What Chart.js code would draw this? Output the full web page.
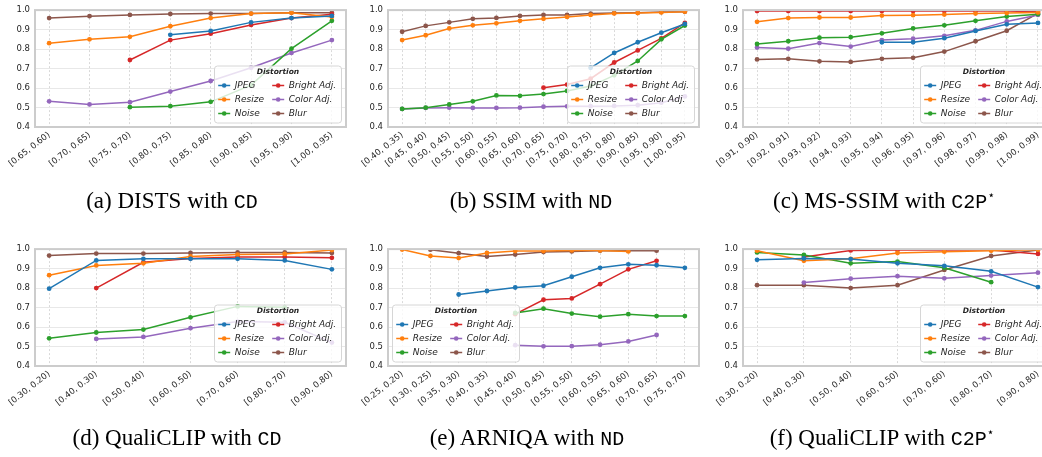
<!DOCTYPE html>
<html>
<head>
<meta charset="utf-8">
<script src="https://cdn.jsdelivr.net/npm/chart.js@4.4.1/dist/chart.umd.min.js"></script>
<style>
  body { margin: 0; width: 1042px; height: 457px; overflow: hidden; background: #fff; position: relative; }
  canvas { position: absolute; }
  .cap { position: absolute; width: 360px; text-align: center; white-space: nowrap;
         font-family: 'Liberation Serif', serif; font-size: 23px; line-height: 1; color: #000; }
  .cap code { font-family: 'Liberation Mono', monospace; font-size: 20px; }
  .cap sup { font-family: 'DejaVu Sans', sans-serif; font-size: 12px; line-height: 0; }
</style>
</head>
<body>
<canvas id="distsChart" width="350" height="190" style="left:0;top:0"></canvas>
<canvas id="ssimChart" width="352" height="190" style="left:350px;top:0"></canvas>
<canvas id="msssimChart" width="360" height="190" style="left:702px;top:0"></canvas>
<canvas id="qcCdChart" width="350" height="190" style="left:0;top:239px"></canvas>
<canvas id="arniqaChart" width="352" height="190" style="left:350px;top:239px"></canvas>
<canvas id="qcC2pChart" width="360" height="190" style="left:702px;top:239px"></canvas>

<div class="cap" style="left:-8px;top:189px">(a) DISTS with <code>CD</code></div>
<div class="cap" style="left:351px;top:189px">(b) SSIM with <code>ND</code></div>
<div class="cap" style="left:704px;top:189px">(c) MS-SSIM with <code>C2P</code><sup>⋆</sup></div>
<div class="cap" style="left:-3px;top:426px">(d) QualiCLIP with <code>CD</code></div>
<div class="cap" style="left:347px;top:426px">(e) ARNIQA with <code>ND</code></div>
<div class="cap" style="left:702px;top:426px">(f) QualiCLIP with <code>C2P</code><sup>⋆</sup></div>

<script>
const names = ['JPEG', 'Resize', 'Noise', 'Bright Adj.', 'Color Adj.', 'Blur'];
const colors = ['#1f77b4', '#ff7f0e', '#2ca02c', '#d62728', '#9467bd', '#8c564b'];

// (a) DISTS with CD
const distsLabels = ['[0.65, 0.60)', '[0.70, 0.65)', '[0.75, 0.70)', '[0.80, 0.75)', '[0.85, 0.80)', '[0.90, 0.85)', '[0.95, 0.90)', '[1.00, 0.95)'];
const distsJpeg = [null, null, null, 0.873, 0.893, 0.937, 0.959, 0.970];
const distsResize = [0.830, 0.850, 0.863, 0.917, 0.959, 0.982, 0.987, 0.965];
const distsNoise = [null, null, 0.502, 0.507, 0.529, 0.615, 0.802, 0.945];
const distsBright = [null, null, 0.744, 0.846, 0.879, 0.924, 0.959, 0.979];
const distsColor = [0.532, 0.516, 0.527, 0.582, 0.636, 0.704, 0.780, 0.846];
const distsBlur = [0.959, 0.969, 0.975, 0.980, 0.982, 0.982, 0.987, 0.987];

// (b) SSIM with ND
const ssimLabels = ['[0.40, 0.35)', '[0.45, 0.40)', '[0.50, 0.45)', '[0.55, 0.50)', '[0.60, 0.55)', '[0.65, 0.60)', '[0.70, 0.65)', '[0.75, 0.70)', '[0.80, 0.75)', '[0.85, 0.80)', '[0.90, 0.85)', '[0.95, 0.90)', '[1.00, 0.95)'];
const ssimJpeg = [null, null, null, null, null, null, null, null, 0.704, 0.780, 0.835, 0.884, 0.929];
const ssimResize = [0.846, 0.871, 0.906, 0.922, 0.932, 0.945, 0.955, 0.965, 0.975, 0.983, 0.985, 0.988, 0.992];
const ssimNoise = [0.493, 0.499, 0.516, 0.532, 0.562, 0.560, 0.569, 0.585, 0.610, 0.665, 0.739, 0.850, 0.921];
const ssimBright = [null, null, null, null, null, null, 0.602, 0.618, 0.648, 0.731, 0.793, 0.855, 0.934];
const ssimColor = [0.493, 0.498, 0.499, 0.498, 0.498, 0.499, 0.504, 0.506, 0.507, 0.508, 0.512, 0.525, 0.557];
const ssimBlur = [0.889, 0.919, 0.937, 0.955, 0.960, 0.970, 0.975, 0.975, 0.982, 0.985, 0.987, 0.990, 0.992];

// (c) MS-SSIM with C2P*
const msssimLabels = ['[0.91, 0.90)', '[0.92, 0.91)', '[0.93, 0.92)', '[0.94, 0.93)', '[0.95, 0.94)', '[0.96, 0.95)', '[0.97, 0.96)', '[0.98, 0.97)', '[0.99, 0.98)', '[1.00, 0.99)'];
const msssimJpeg = [null, null, null, null, 0.835, 0.835, 0.856, 0.893, 0.927, 0.934];
const msssimResize = [0.940, 0.959, 0.962, 0.962, 0.972, 0.974, 0.977, 0.982, 0.985, 0.988];
const msssimNoise = [0.826, 0.840, 0.858, 0.861, 0.881, 0.906, 0.922, 0.945, 0.967, 0.979];
const msssimBright = [0.995, 0.995, 0.995, 0.995, 0.995, 0.995, 0.995, 0.995, 0.995, 0.992];
const msssimColor = [0.808, 0.802, 0.831, 0.813, 0.846, 0.853, 0.868, 0.896, 0.942, 0.975];
const msssimBlur = [0.747, 0.750, 0.737, 0.734, 0.750, 0.755, 0.787, 0.840, 0.894, 0.983];

// (d) QualiCLIP with CD
const qcCdLabels = ['[0.30, 0.20)', '[0.40, 0.30)', '[0.50, 0.40)', '[0.60, 0.50)', '[0.70, 0.60)', '[0.80, 0.70)', '[0.90, 0.80)'];
const qcCdJpeg = [0.797, 0.942, 0.950, 0.950, 0.950, 0.942, 0.896];
const qcCdResize = [0.866, 0.916, 0.927, 0.962, 0.972, 0.975, 0.995];
const qcCdNoise = [0.542, 0.572, 0.587, 0.650, 0.706, 0.702, null];
const qcCdBright = [null, 0.800, 0.932, 0.952, 0.960, 0.960, 0.955];
const qcCdColor = [null, 0.539, 0.549, 0.594, 0.628, 0.624, 0.520];
const qcCdBlur = [0.967, 0.977, 0.977, 0.980, 0.983, 0.983, 0.980];

// (e) ARNIQA with ND
const arniqaLabels = ['[0.25, 0.20)', '[0.30, 0.25)', '[0.35, 0.30)', '[0.40, 0.35)', '[0.45, 0.40)', '[0.50, 0.45)', '[0.55, 0.50)', '[0.60, 0.55)', '[0.65, 0.60)', '[0.70, 0.65)', '[0.75, 0.70)'];
const arniqaJpeg = [null, null, 0.767, 0.785, 0.803, 0.812, 0.858, 0.904, 0.922, 0.917, 0.904];
const arniqaResize = [0.998, 0.965, 0.954, 0.980, 0.990, 0.990, 0.993, 0.993, 0.988, null, null];
const arniqaNoise = [null, null, null, null, 0.672, 0.694, 0.669, 0.653, 0.666, 0.656, 0.656];
const arniqaBright = [null, null, null, null, 0.666, 0.740, 0.747, 0.820, 0.896, 0.940, null];
const arniqaColor = [null, null, null, null, 0.507, 0.501, 0.502, 0.509, 0.526, 0.559, null];
const arniqaBlur = [null, 0.997, 0.979, 0.962, 0.972, 0.985, 0.988, 0.992, 0.992, 0.992, null];

// (f) QualiCLIP with C2P*
const qcC2pLabels = ['[0.30, 0.20)', '[0.40, 0.30)', '[0.50, 0.40)', '[0.60, 0.50)', '[0.70, 0.60)', '[0.80, 0.70)', '[0.90, 0.80)'];
const qcC2pJpeg = [0.945, 0.952, 0.949, 0.927, 0.914, 0.886, 0.805];
const qcC2pResize = [0.992, 0.940, 0.950, 0.980, 0.987, 0.992, 0.997];
const qcC2pNoise = [0.983, 0.970, 0.927, 0.936, 0.904, 0.830, null];
const qcC2pBright = [null, 0.960, 0.993, 0.995, 0.995, 0.995, 0.975];
const qcC2pColor = [null, 0.828, 0.848, 0.861, 0.850, 0.864, 0.879];
const qcC2pBlur = [0.815, 0.815, 0.800, 0.815, 0.893, 0.965, 0.995];

const textColor = '#262626';

// axes frame + in-axes legend (matplotlib style)
const frameLegend = {
    id: 'frameLegend',
    afterDatasetsDraw(chart) {
        const a = chart.chartArea, ctx = chart.ctx;
        ctx.save();
        ctx.strokeStyle = '#cccccc';
        ctx.lineWidth = 2;
        ctx.strokeRect(a.left, a.top, a.right - a.left, a.bottom - a.top);
        ctx.restore();
    },
    afterDraw(chart, args, opts) {
        const a = chart.chartArea, ctx = chart.ctx;
        const w = 127, h = 57;
        const x = opts.side === 'left' ? a.left + 4.5 : a.right - 4.5 - w;
        const y = a.bottom - 4 - h;
        ctx.save();
        ctx.beginPath();
        ctx.roundRect(x, y, w, h, 3);
        ctx.fillStyle = 'rgba(255,255,255,0.8)';
        ctx.fill();
        ctx.strokeStyle = '#d6d6d6';
        ctx.lineWidth = 1;
        ctx.stroke();

        ctx.fillStyle = textColor;
        ctx.font = 'italic bold 7.5px "DejaVu Sans"';
        ctx.textAlign = 'center';
        ctx.textBaseline = 'middle';
        ctx.fillText('Distortion', x + w / 2, y + 6);

        ctx.font = 'italic 9px "DejaVu Sans"';
        ctx.textAlign = 'left';
        chart.data.datasets.forEach((ds, i) => {
            const col = Math.floor(i / 3), row = i % 3;
            const hx = x + (col ? 63.7 : 9.7);
            const ty = y + 19.5 + row * 14;
            ctx.strokeStyle = ds.borderColor;
            ctx.lineWidth = 1.5;
            ctx.beginPath();
            ctx.moveTo(hx - 6, ty);
            ctx.lineTo(hx + 6, ty);
            ctx.stroke();
            ctx.fillStyle = ds.borderColor;
            ctx.beginPath();
            ctx.arc(hx, ty, 2.3, 0, Math.PI * 2);
            ctx.fill();
            ctx.fillStyle = textColor;
            ctx.fillText(ds.label, hx + 10.5, ty);
        });
        ctx.restore();
    }
};

function makeChart(id, labels, series, plotLeft, rightPad, side) {
    const n = labels.length;
    const tickFont = { family: 'DejaVu Sans', size: 8.5 };
    return new Chart(document.getElementById(id), {
        type: 'line',
        data: {
            datasets: series.map((vals, i) => ({
                label: names[i],
                data: vals.map((v, j) => ({ x: j, y: v })).filter(p => p.y !== null),
                borderColor: colors[i],
                backgroundColor: colors[i],
                borderWidth: 1.5,
                pointRadius: 2.4,
                pointBorderWidth: 0,
                pointHoverRadius: 2.4,
                tension: 0
            }))
        },
        options: {
            responsive: false,
            animation: false,
            events: [],
            layout: { padding: { left: 0, top: 6, right: rightPad, bottom: 0 } },
            plugins: {
                legend: { display: false },
                tooltip: { enabled: false },
                frameLegend: { side: side }
            },
            scales: {
                x: {
                    type: 'linear',
                    min: -0.05 * (n - 1),
                    max: (n - 1) * 1.05,
                    afterBuildTicks: s => { s.ticks = labels.map((_, i) => ({ value: i })); },
                    afterFit: s => { s.height = 63; },
                    ticks: {
                        autoSkip: false,
                        minRotation: 38,
                        maxRotation: 38,
                        padding: 3,
                        color: textColor,
                        font: tickFont,
                        callback: v => labels[v]
                    },
                    grid: { color: '#d0d0d0', lineWidth: 0.8, drawTicks: false },
                    border: { display: false, dash: [2, 2] }
                },
                y: {
                    min: 0.4,
                    max: 1.0,
                    afterFit: s => { s.width = plotLeft; },
                    ticks: {
                        stepSize: 0.1,
                        padding: 5,
                        color: textColor,
                        font: tickFont,
                        callback: v => v.toFixed(1)
                    },
                    grid: { color: '#e8e8e8', lineWidth: 1, drawTicks: false },
                    border: { display: false }
                }
            }
        },
        plugins: [frameLegend]
    });
}

makeChart('distsChart', distsLabels, [distsJpeg, distsResize, distsNoise, distsBright, distsColor, distsBlur], 35, 4, 'right');
makeChart('ssimChart', ssimLabels, [ssimJpeg, ssimResize, ssimNoise, ssimBright, ssimColor, ssimBlur], 38, 3, 'right');
makeChart('msssimChart', msssimLabels, [msssimJpeg, msssimResize, msssimNoise, msssimBright, msssimColor, msssimBlur], 41, 10, 'right');
makeChart('qcCdChart', qcCdLabels, [qcCdJpeg, qcCdResize, qcCdNoise, qcCdBright, qcCdColor, qcCdBlur], 35, 4, 'right');
makeChart('arniqaChart', arniqaLabels, [arniqaJpeg, arniqaResize, arniqaNoise, arniqaBright, arniqaColor, arniqaBlur], 38, 3, 'left');
makeChart('qcC2pChart', qcC2pLabels, [qcC2pJpeg, qcC2pResize, qcC2pNoise, qcC2pBright, qcC2pColor, qcC2pBlur], 41, 10, 'right');
</script>
</body>
</html>
